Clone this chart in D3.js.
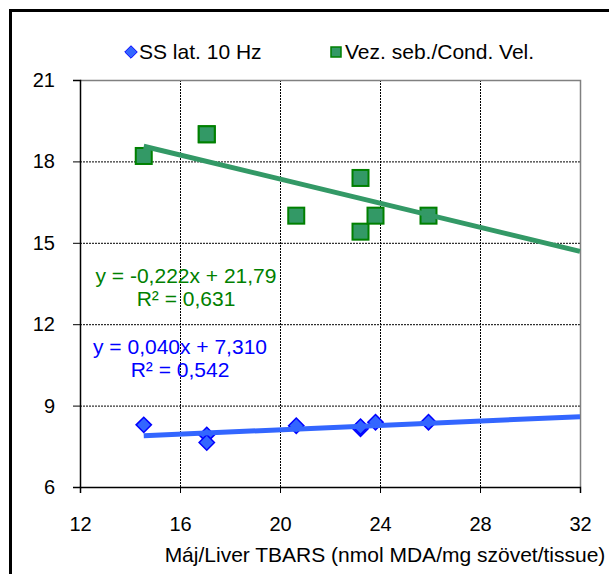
<!DOCTYPE html>
<html>
<head>
<meta charset="utf-8">
<script src="https://cdn.jsdelivr.net/npm/d3@7"></script>
<style>
  body { margin: 0; background: #fff; }
  text { font-family: "Liberation Sans", Arial, sans-serif; }
</style>
</head>
<body>
<div id="board"></div>
<script>
// data
const tbars = [14.55, 17.07, 17.07, 20.65, 23.22, 23.22, 23.82, 25.94];
const ssLat = [8.29, 7.92, 7.64, 8.26, 8.15, 8.22, 8.39, 8.39];
const condVel = [18.2, 19.0, 19.0, 16.0, 17.39, 15.41, 16.0, 16.0];
const seriesNames = ["SS lat. 10 Hz", "Vez. seb./Cond. Vel."];
const xTicks = [12, 16, 20, 24, 28, 32];
const yTicks = [6, 9, 12, 15, 18, 21];
// trendline coefficients as printed on the chart
const fitSS = { slope: 0.040, icpt: 7.310, r2: "0,542", eq: "y = 0,040x + 7,310" };
const fitCV = { slope: -0.222, icpt: 21.79, r2: "0,631", eq: "y = -0,222x + 21,79" };

const width = 609;
const height = 574;
const marginTop = 80;
const marginRight = 29;
const marginBottom = 87;
const marginLeft = 80;

const x = d3.scaleLinear()
    .domain([12, 32])
    .range([marginLeft, width - marginRight]);

const y = d3.scaleLinear()
    .domain([6, 21])
    .range([height - marginBottom, marginTop]);

const svg = d3.create("svg")
    .attr("width", width)
    .attr("height", height)
    .style("display", "block");

svg.append("rect")
    .attr("width", width).attr("height", height)
    .attr("fill", "#fff");

// outer chart frame, cropped at right/bottom
svg.append("rect")
    .attr("x", 10.5).attr("y", 10.5)
    .attr("width", width + 20).attr("height", height + 20)
    .attr("fill", "none")
    .attr("stroke", "#000")
    .attr("stroke-width", 3);

// grid
svg.append("g")
    .selectAll("line")
    .data(xTicks.slice(1, -1))
    .join("line")
    .attr("x1", d => x(d) + 0.5).attr("x2", d => x(d) + 0.5)
    .attr("y1", y(21)).attr("y2", y(6))
    .attr("stroke", "#000")
    .attr("stroke-dasharray", "2,1");

svg.append("g")
    .selectAll("line")
    .data(yTicks.slice(1, -1))
    .join("line")
    .attr("x1", x(12)).attr("x2", x(32))
    .attr("y1", d => y(d) + 0.5).attr("y2", d => y(d) + 0.5)
    .attr("stroke", "#000")
    .attr("stroke-dasharray", "2,1");

// top & right border of plot area
svg.append("path")
    .attr("d", `M${x(12)},${y(21) + 0.5}H${x(32) + 0.5}V${y(6)}`)
    .attr("fill", "none")
    .attr("stroke", "#808080")
    .attr("stroke-width", 1.5);

// axes
const xAxis = svg.append("g")
    .attr("transform", `translate(0,${y(6)})`)
    .call(d3.axisBottom(x).tickValues(xTicks).tickSize(6).tickPadding(24));
const yAxis = svg.append("g")
    .attr("transform", `translate(${x(12)},0)`)
    .call(d3.axisLeft(y).tickValues(yTicks).tickSize(7).tickPadding(18));

[xAxis, yAxis].forEach(g => {
    g.select(".domain").attr("stroke", "#000").attr("stroke-width", 1.5);
    g.selectAll(".tick line").attr("stroke", "#000").attr("stroke-width", 1);
    g.selectAll(".tick text")
        .attr("fill", "#000")
        .style("font-size", "20px")
        .style("font-family", "'Liberation Sans', Arial, sans-serif");
});

svg.append("text")
    .attr("x", 385).attr("y", 562)
    .attr("text-anchor", "middle")
    .style("font-size", "21px")
    .text("Máj/Liver TBARS (nmol MDA/mg szövet/tissue)");

const pts = tbars.map((t, i) => ({ t, ss: ssLat[i], cv: condVel[i] }));

// markers
svg.append("g")
    .selectAll("rect")
    .data(pts)
    .join("rect")
    .attr("x", d => x(d.t) - 8).attr("y", d => y(d.cv) - 8)
    .attr("width", 16).attr("height", 16)
    .attr("fill", "#339966")
    .attr("stroke", "#008000")
    .attr("stroke-width", 2);

const diamond = d3.symbol().type(d3.symbolDiamond2).size(150);
svg.append("g")
    .selectAll("path")
    .data(pts)
    .join("path")
    .attr("transform", d => `translate(${x(d.t)},${y(d.ss)})`)
    .attr("d", diamond)
    .attr("fill", "#3366ff")
    .attr("stroke", "#0000ff")
    .attr("stroke-width", 1.5);

// trendlines
const x0 = d3.min(tbars);
[[fitCV, "#339966"], [fitSS, "#3366ff"]].forEach(([f, c]) => {
    svg.append("line")
        .attr("x1", x(x0)).attr("y1", y(f.slope * x0 + f.icpt))
        .attr("x2", x(32)).attr("y2", y(f.slope * 32 + f.icpt))
        .attr("stroke", c)
        .attr("stroke-width", 5);
});

// equations
const eqs = [[fitCV, "#008000", 186, 283], [fitSS, "#0000ff", 180, 354]];
eqs.forEach(([f, c, cx, by]) => {
    const t = svg.append("text")
        .attr("text-anchor", "middle")
        .attr("fill", c)
        .style("font-size", "21px");
    t.append("tspan").attr("x", cx).attr("y", by).text(f.eq);
    t.append("tspan").attr("x", cx).attr("y", by + 23).text("R² = " + f.r2);
});

// legend
const leg = svg.append("g");
leg.append("path")
    .attr("transform", "translate(131,52)")
    .attr("d", d3.symbol().type(d3.symbolDiamond2).size(100))
    .attr("fill", "#3366ff")
    .attr("stroke", "#0000ff")
    .attr("stroke-width", 1);
leg.append("text")
    .attr("x", 139).attr("y", 59)
    .style("font-size", "21px")
    .text(seriesNames[0]);
leg.append("rect")
    .attr("x", 331).attr("y", 47)
    .attr("width", 10).attr("height", 10)
    .attr("fill", "#339966")
    .attr("stroke", "#008000")
    .attr("stroke-width", 1.5);
leg.append("text")
    .attr("x", 345).attr("y", 59)
    .style("font-size", "21px")
    .text(seriesNames[1]);

document.getElementById("board").append(svg.node());
</script>
</body>
</html>
